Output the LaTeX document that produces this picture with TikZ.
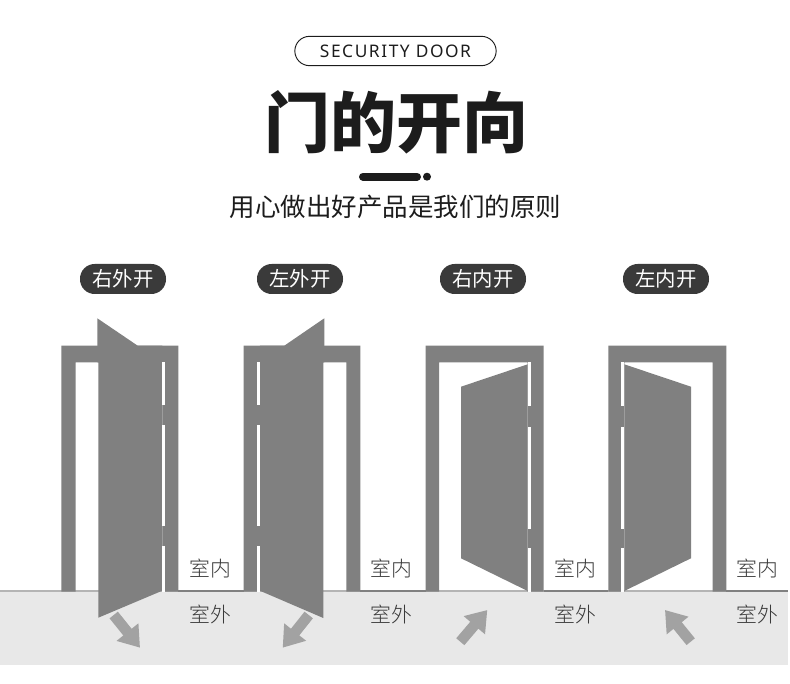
\documentclass[tikz,border=0pt]{standalone}
\usepackage{fontspec}
\setmainfont{Noto Sans CJK SC}
\newfontfamily\latinfont[LetterSpace=9]{Noto Sans}
\newfontfamily\lightfont{Noto Sans CJK SC Light}
\newfontfamily\blackfont{Noto Sans CJK SC Black}
\usetikzlibrary{arrows.meta,positioning}
\definecolor{cA}{HTML}{808080}
\definecolor{cB}{HTML}{3a3a3a}
\definecolor{cC}{HTML}{e8e8e8}
\definecolor{cD}{HTML}{a2a2a2}
\definecolor{cE}{HTML}{1c1c1c}
\definecolor{cF}{HTML}{b4b4b4}
\tikzset{
  frame/.style={fill=cA},
  leaf/.style={fill=cA},
  slit/.style={white,line width=2.2pt},
  pill/.style={rounded corners=11pt,fill=cB,text=white,minimum width=64.5pt,
               minimum height=22.5pt,inner sep=0pt,font=\fontsize{15.3}{15.3}\selectfont},
  roomlabel/.style={inner sep=0pt,text=cB,font=\lightfont\fontsize{15.6}{15.6}\selectfont},
  swing/.style={-{Triangle[length=15pt,width=20pt]},cD,line width=8pt},
}
\begin{document}
\begin{tikzpicture}[x=.75pt,y=-.75pt]
  \useasboundingbox (0,0) rectangle (790,684);
  % heading
  \node[draw=cE,line width=.7pt,rounded corners=11pt,minimum width=151pt,minimum height=22pt,
        inner sep=0pt,text=cE,font=\latinfont\fontsize{13}{13}\selectfont] (tag) at (395.5,51) {SECURITY DOOR};
  \node[inner sep=0pt,text=cE,font=\blackfont\fontsize{49.5}{49.5}\selectfont] (title) at (396.5,122) {门的开向};
  \coordinate (barA) at (363,176.7);
  \coordinate (barB) at (417,176.7);
  \draw[cE,line width=6pt,line cap=round] (barA) -- (barB);
  \node[circle,fill=cE,inner sep=0pt,minimum size=6pt] (bardot) at (427,176.7) {};
  \node[inner sep=0pt,text=cE,font=\fontsize{19.1}{19.1}\selectfont] (sub) at (395.5,207) {用心做出好产品是我们的原则};
  % ground
  \fill[cC] (0,591) rectangle (788,664.5);
  \draw[cF,line width=1.1pt] (0,591) -- (788,591);
  \foreach \xa/\xb in {178/244,360/426,544/608,726/788}{
    \draw[cA,line width=1.1pt] (\xa,591) -- (\xb,591);}
  % frames
  \foreach \xa/\xb/\xc/\xd in {61.3/75.7/162.3/178.3,243.7/259.8/346.3/360.3,
                               425.7/439/527.6/543.7,608.3/624.4/712.7/726.3}{
    \fill[frame] (\xa,591.7) -- (\xa,345.7) -- (\xd,345.7) -- (\xd,591.7) -- (\xc,591.7)
       -- (\xc,362.5) -- (\xb,362.5) -- (\xb,591.7) -- cycle;}
  % leaves
  \fill[leaf] (97.3,318.3) -- (137.7,345.7) -- (162.3,345.7) -- (162.3,590.7) -- (98.3,617.7) -- (98.3,362.5) -- (97.3,362.5) -- cycle;
  \fill[leaf] (324.3,318.3) -- (284.3,345.7) -- (259.8,345.7) -- (259.8,590.7) -- (323.3,618) -- (323.3,362.5) -- (324.3,362.5) -- cycle;
  \fill[leaf] (527.7,364.3) -- (461,386.7) -- (461,558.3) -- (527.7,591) -- cycle;
  \fill[leaf] (624.3,364.3) -- (691,386.7) -- (691,558.3) -- (624.3,591) -- cycle;
  % hinge gaps
  \foreach \xs/\ya/\yb/\yc/\yd in {163.7/405/425/526/546,258.4/405/425/526/546,
                                   529.1/406/427/529/548,622.9/406/427/529/548}{
    \draw[slit] (\xs,362.5) -- (\xs,\ya);
    \draw[slit] (\xs,\yb) -- (\xs,\yc);
    \draw[slit] (\xs,\yd) -- (\xs,591.5);}
  % tabs
  \node[pill] (p1) at (123,279) {右外开};
  \node[pill] (p2) at (300,279) {左外开};
  \node[pill] (p3) at (483,279) {右内开};
  \node[pill] (p4) at (666,279) {左内开};
  % room labels
  \foreach \n/\x in {1/210,2/391.5,3/575,4/757}{
    \node[roomlabel] (in\n) at (\x,569) {室内};
    \node[roomlabel] (out\n) at (\x,614) {室外};}
  % swing arrows
  \foreach \n/\xa/\ya/\xb/\yb in {1/113.7/615/140/647.7,2/308.7/615/282.7/647.7,
                                  3/460.3/641.7/487.3/610,4/690.7/641.7/665/610}{
    \coordinate (sA\n) at (\xa,\ya);
    \coordinate (sB\n) at (\xb,\yb);
    \draw[swing] (sA\n) -- (sB\n);}
\end{tikzpicture}
\end{document}
